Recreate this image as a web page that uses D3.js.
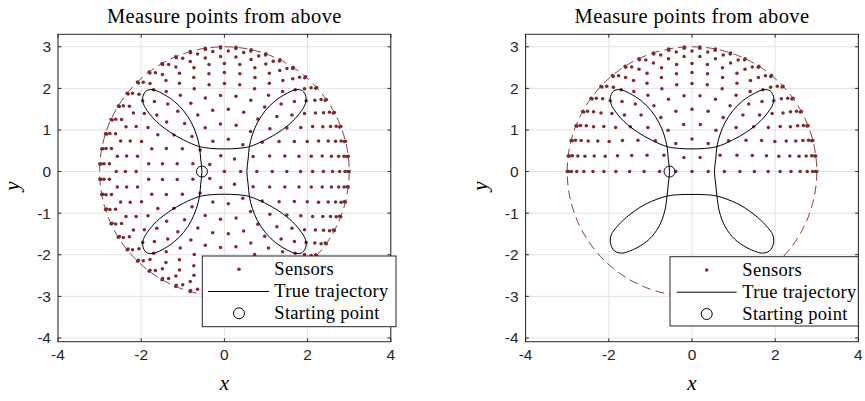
<!DOCTYPE html>
<html>
<head>
<meta charset="utf-8">
<script src="https://cdn.jsdelivr.net/npm/d3@7"></script>
<style>
  body { margin: 0; background: #fff; }
  .tick-label { font-family: "Liberation Sans", Arial, sans-serif; font-size: 15.5px; fill: #262626; }
  .serif { font-family: "Liberation Serif", "Times New Roman", serif; fill: #000; }
</style>
</head>
<body>
<svg id="chart" width="865" height="401"></svg>
<script>
const ringRadius = [0, 0.39, 0.78, 1.15, 1.50, 1.83, 2.12, 2.38, 2.60, 2.77, 2.90, 2.97, 3.00];
// sensors on each full ring (left panel)
const ringCountFull = [1, 7, 13, 19, 25, 31, 36, 40, 44, 47, 49, 51, 51];
// steps on each half ring, y >= 0 only (right panel)
const ringStepsHalf = [0, 3, 6, 9, 12, 15, 18, 20, 22, 23, 24, 25, 25];
const boundaryRadius = 3;
const startPoint = [-0.54, 0];

// true trajectory, left panel
const trajLeft = [
  [-0.54,0],[-0.57,0.3],[-0.6,0.6],[-0.67,0.88],[-0.79,1.17],[-0.98,1.46],[-1.22,1.7],[-1.5,1.88],
  [-1.73,1.97],[-1.88,1.94],[-1.96,1.8],[-1.95,1.64],[-1.86,1.47],[-1.63,1.2],[-1.31,0.95],[-0.98,0.76],
  [-0.6,0.6],[-0.3,0.555],[0,0.545],[0.3,0.555],[0.6,0.6],[0.98,0.76],[1.31,0.95],[1.63,1.2],
  [1.86,1.47],[1.95,1.64],[1.96,1.8],[1.88,1.94],[1.73,1.97],[1.5,1.88],[1.22,1.7],[0.98,1.46],
  [0.79,1.17],[0.67,0.88],[0.6,0.6],[0.57,0.3],[0.54,0],[0.57,-0.3],[0.6,-0.6],[0.67,-0.88],
  [0.79,-1.17],[0.98,-1.46],[1.22,-1.7],[1.5,-1.88],[1.73,-1.97],[1.88,-1.94],[1.96,-1.8],[1.95,-1.64],
  [1.86,-1.47],[1.63,-1.2],[1.31,-0.95],[0.98,-0.76],[0.6,-0.6],[0.3,-0.555],[0,-0.545],[-0.3,-0.555],
  [-0.6,-0.6],[-0.98,-0.76],[-1.31,-0.95],[-1.63,-1.2],[-1.86,-1.47],[-1.95,-1.64],[-1.96,-1.8],[-1.88,-1.94],
  [-1.73,-1.97],[-1.5,-1.88],[-1.22,-1.7],[-0.98,-1.46],[-0.79,-1.17],[-0.67,-0.88],[-0.6,-0.6],[-0.57,-0.3]
];

// true trajectory, right panel (lower lobes differ)
const trajRight = [
  [-0.54,0],[-0.57,0.3],[-0.6,0.6],[-0.67,0.88],[-0.79,1.17],[-0.98,1.46],[-1.22,1.7],[-1.5,1.88],
  [-1.73,1.97],[-1.88,1.94],[-1.96,1.8],[-1.95,1.64],[-1.86,1.47],[-1.63,1.2],[-1.31,0.95],[-0.98,0.76],
  [-0.6,0.6],[-0.3,0.555],[0,0.545],[0.3,0.555],[0.6,0.6],[0.98,0.76],[1.31,0.95],[1.63,1.2],
  [1.86,1.47],[1.95,1.64],[1.96,1.8],[1.88,1.94],[1.73,1.97],[1.5,1.88],[1.22,1.7],[0.98,1.46],
  [0.79,1.17],[0.67,0.88],[0.6,0.6],[0.57,0.3],[0.54,0],[0.57,-0.3],[0.6,-0.59],[0.66,-0.97],
  [0.8,-1.33],[1.02,-1.62],[1.3,-1.82],[1.5,-1.91],[1.68,-1.96],[1.86,-1.91],[1.96,-1.72],[1.94,-1.52],
  [1.79,-1.31],[1.49,-1.03],[1.09,-0.77],[0.6,-0.59],[0.3,-0.555],[0,-0.55],[-0.3,-0.555],[-0.6,-0.59],
  [-1.09,-0.77],[-1.49,-1.03],[-1.79,-1.31],[-1.94,-1.52],[-1.96,-1.72],[-1.86,-1.91],[-1.68,-1.96],[-1.5,-1.91],
  [-1.3,-1.82],[-1.02,-1.62],[-0.8,-1.33],[-0.66,-0.97],[-0.6,-0.59],[-0.57,-0.3]
];

const xTicks = [-4, -2, 0, 2, 4];
const yTicks = [-4, -3, -2, -1, 0, 1, 2, 3];
const xDomain = [-4, 4];
const yDomain = [-4.09, 3.30];
const legendLabels = ["Sensors", "True trajectory", "Starting point"];
const titleText = "Measure points from above";

const sensorColor = "#7b2a2d";
const axisColor = "#262626";

const svg = d3.select("#chart");

// sensor positions for each panel
function sensorsFull() {
  const pts = [];
  ringRadius.forEach((r, i) => {
    const n = ringCountFull[i];
    for (let k = 0; k < n; k++) {
      const a = 2 * Math.PI * k / n;
      pts.push([r * Math.cos(a), r * Math.sin(a)]);
    }
  });
  return pts;
}
function sensorsHalf() {
  const pts = [];
  ringRadius.forEach((r, i) => {
    const s = ringStepsHalf[i];
    if (s === 0) { pts.push([0, 0]); return; }
    for (let k = 0; k <= s; k++) {
      const a = Math.PI * k / s;
      pts.push([r * Math.cos(a), r * Math.sin(a)]);
    }
  });
  return pts;
}

const panels = [
  { left: 58.0, right: 390.8, sensors: sensorsFull(), traj: trajLeft,
    legend: { x0: 202.3, y0: 256, x1: 396, y1: 326.7, sym: 239, l0: 208, l1: 269, tx: 274.3 } },
  { left: 525.6, right: 858.4, sensors: sensorsHalf(), traj: trajRight,
    legend: { x0: 670, y0: 256.7, x1: 858.3, y1: 326, sym: 706.7, l0: 676.7, l1: 736.7, tx: 742.3 } }
];

const plotTop = 34.3, plotBottom = 341.7;

panels.forEach(p => {
  const x = d3.scaleLinear().domain(xDomain).range([p.left, p.right]);
  const y = d3.scaleLinear().domain(yDomain).range([plotBottom, plotTop]);
  const g = svg.append("g");

  // grid
  g.append("g").selectAll("line").data(xTicks).join("line")
    .attr("x1", d => x(d)).attr("x2", d => x(d))
    .attr("y1", plotTop).attr("y2", plotBottom)
    .attr("stroke", "#e3e3e3").attr("stroke-width", 1);
  g.append("g").selectAll("line").data(yTicks).join("line")
    .attr("x1", p.left).attr("x2", p.right)
    .attr("y1", d => y(d)).attr("y2", d => y(d))
    .attr("stroke", "#e3e3e3").attr("stroke-width", 1);

  // boundary circle
  g.append("ellipse")
    .attr("cx", x(0)).attr("cy", y(0))
    .attr("rx", x(boundaryRadius) - x(0)).attr("ry", y(0) - y(boundaryRadius))
    .attr("fill", "none").attr("stroke", sensorColor).attr("stroke-width", 0.9)
    .attr("stroke-dasharray", "9,5");

  // sensors
  g.append("g").selectAll("circle").data(p.sensors).join("circle")
    .attr("cx", d => x(d[0])).attr("cy", d => y(d[1]))
    .attr("r", 1.75).attr("fill", sensorColor);

  // trajectory
  const line = d3.line().x(d => x(d[0])).y(d => y(d[1])).curve(d3.curveCatmullRomClosed.alpha(0.5));
  g.append("path").attr("d", line(p.traj))
    .attr("fill", "none").attr("stroke", "#000").attr("stroke-width", 1);

  // starting point
  g.append("circle").attr("cx", x(startPoint[0])).attr("cy", y(startPoint[1]))
    .attr("r", 5.5).attr("fill", "none").attr("stroke", "#000").attr("stroke-width", 1);

  // axes box + inward ticks
  g.append("rect").attr("x", p.left).attr("y", plotTop)
    .attr("width", p.right - p.left).attr("height", plotBottom - plotTop)
    .attr("fill", "none").attr("stroke", axisColor).attr("stroke-width", 1);
  const tl = 3.3;
  xTicks.forEach(t => {
    g.append("line").attr("x1", x(t)).attr("x2", x(t)).attr("y1", plotBottom).attr("y2", plotBottom - tl).attr("stroke", axisColor);
    g.append("line").attr("x1", x(t)).attr("x2", x(t)).attr("y1", plotTop).attr("y2", plotTop + tl).attr("stroke", axisColor);
  });
  yTicks.forEach(t => {
    g.append("line").attr("x1", p.left).attr("x2", p.left + tl).attr("y1", y(t)).attr("y2", y(t)).attr("stroke", axisColor);
    g.append("line").attr("x1", p.right).attr("x2", p.right - tl).attr("y1", y(t)).attr("y2", y(t)).attr("stroke", axisColor);
  });

  // tick labels
  g.append("g").selectAll("text").data(xTicks).join("text")
    .attr("class", "tick-label").attr("x", d => x(d)).attr("y", 359.5)
    .attr("text-anchor", "middle").text(d => d);
  g.append("g").selectAll("text").data(yTicks).join("text")
    .attr("class", "tick-label").attr("x", p.left - 7).attr("y", d => y(d) + 5.5)
    .attr("text-anchor", "end").text(d => d);

  // axis labels and title
  const cx = (p.left + p.right) / 2;
  g.append("text").attr("class", "serif").attr("x", cx).attr("y", 390)
    .attr("text-anchor", "middle").attr("font-style", "italic").attr("font-size", 21).text("x");
  g.append("text").attr("class", "serif")
    .attr("transform", `translate(${p.left - 39},${(plotTop + plotBottom) / 2 - 2}) rotate(-90)`)
    .attr("text-anchor", "middle").attr("font-style", "italic").attr("font-size", 21).text("y");
  g.append("text").attr("class", "serif").attr("x", cx).attr("y", 23)
    .attr("text-anchor", "middle").attr("font-size", 20.5).attr("letter-spacing", 0.4).text(titleText);

  // legend
  const L = p.legend;
  const lg = g.append("g");
  lg.append("rect").attr("x", L.x0).attr("y", L.y0).attr("width", L.x1 - L.x0).attr("height", L.y1 - L.y0)
    .attr("fill", "#fff").attr("stroke", axisColor).attr("stroke-width", 1);
  const rowY = [L.y0 + 13.3, L.y0 + 35.5, L.y0 + 57.3];
  lg.append("circle").attr("cx", L.sym).attr("cy", rowY[0]).attr("r", 1.75).attr("fill", sensorColor);
  lg.append("line").attr("x1", L.l0).attr("x2", L.l1).attr("y1", rowY[1]).attr("y2", rowY[1]).attr("stroke", "#000");
  lg.append("circle").attr("cx", L.sym).attr("cy", rowY[2]).attr("r", 5.5).attr("fill", "none").attr("stroke", "#000");
  lg.selectAll("text.leg").data(legendLabels).join("text")
    .attr("class", "serif leg").attr("x", L.tx).attr("y", (d, i) => rowY[i] + 5.5)
    .attr("font-size", 18.5).attr("letter-spacing", 0.3).text(d => d);
});
</script>
</body>
</html>
